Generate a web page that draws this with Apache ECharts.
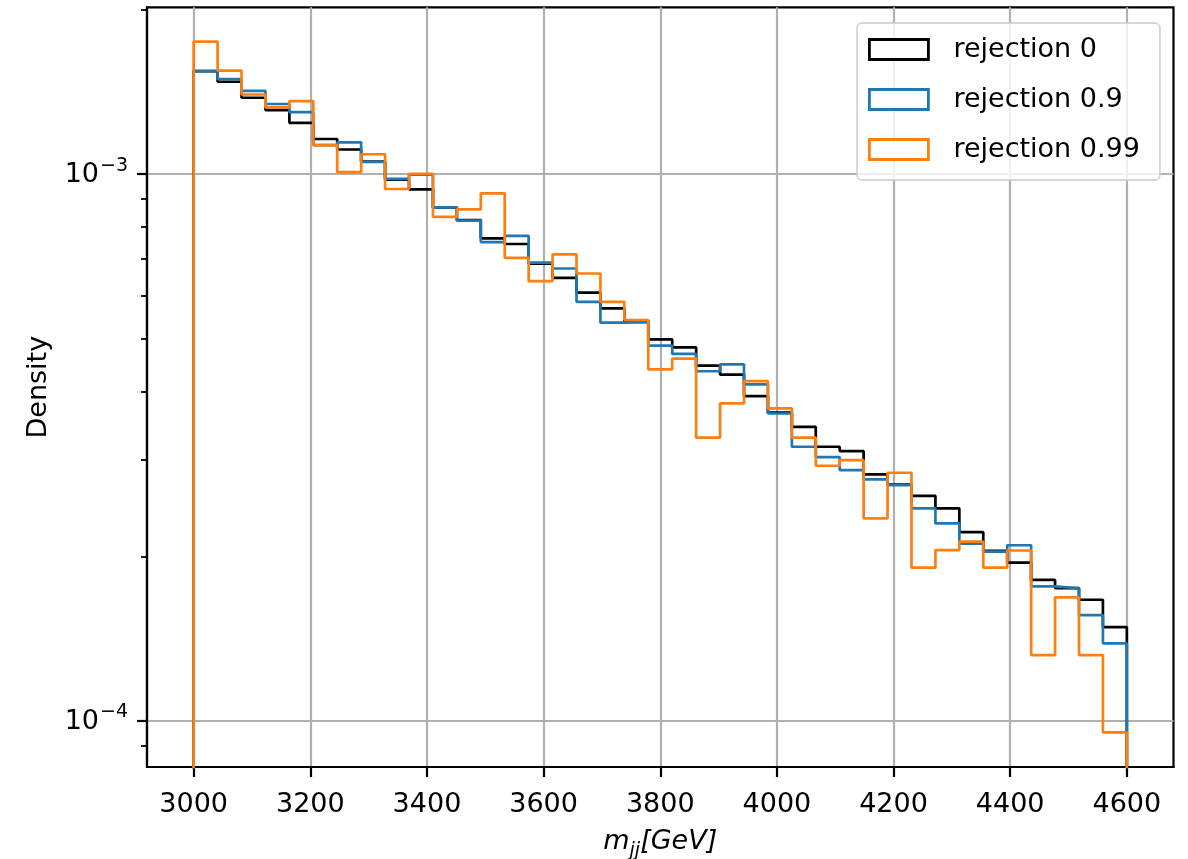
<!DOCTYPE html>
<html><head><meta charset="utf-8">
<script src="https://cdn.jsdelivr.net/npm/echarts@6/dist/echarts.min.js"></script>
<style>html,body{margin:0;padding:0;background:#fff}#chart{width:1188px;height:859px}</style>
</head><body><div id="chart"></div>
<script>
// ---- data ----
const histRange = [3000, 4600];
const nBins = 39;
const seriesNames = ['rejection 0', 'rejection 0.9', 'rejection 0.99'];
const rej0 = [1.543e-3,1.475e-3,1.379e-3,1.309e-3,1.241e-3,1.159e-3,1.109e-3,1.054e-3,0.977e-3,0.938e-3,
  0.869e-3,0.824e-3,0.763e-3,0.745e-3,0.686e-3,0.646e-3,0.607e-3,0.568e-3,0.538e-3,0.4985e-3,
  0.482e-3,0.4466e-3,0.430e-3,0.3927e-3,0.3664e-3,0.345e-3,0.3173e-3,0.3116e-3,0.2825e-3,0.2706e-3,
  0.2581e-3,0.2447e-3,0.2214e-3,0.2046e-3,0.1948e-3,0.1811e-3,0.1750e-3,0.1666e-3,0.1485e-3];
const rej09 = [1.543e-3,1.492e-3,1.420e-3,1.343e-3,1.298e-3,1.130e-3,1.143e-3,1.053e-3,0.980e-3,0.998e-3,
  0.869e-3,0.822e-3,0.751e-3,0.771e-3,0.689e-3,0.672e-3,0.584e-3,0.535e-3,0.536e-3,0.4855e-3,
  0.469e-3,0.436e-3,0.449e-3,0.4126e-3,0.365e-3,0.3173e-3,0.3038e-3,0.2876e-3,0.2766e-3,0.2700e-3,
  0.2447e-3,0.2298e-3,0.2109e-3,0.2040e-3,0.2096e-3,0.1763e-3,0.1749e-3,0.1562e-3,0.1387e-3];
const rej099 = [1.746e-3,1.546e-3,1.398e-3,1.324e-3,1.360e-3,1.130e-3,1.008e-3,1.087e-3,0.939e-3,1.001e-3,
  0.835e-3,0.862e-3,0.922e-3,0.703e-3,0.637e-3,0.713e-3,0.658e-3,0.584e-3,0.541e-3,0.4395e-3,
  0.460e-3,0.3296e-3,0.3808e-3,0.4184e-3,0.3728e-3,0.3296e-3,0.2929e-3,0.300e-3,0.2347e-3,0.2844e-3,
  0.1907e-3,0.2054e-3,0.2128e-3,0.1907e-3,0.2050e-3,0.1320e-3,0.1683e-3,0.1320e-3,0.0953e-3];
const xTicks = [3000, 3200, 3400, 3600, 3800, 4000, 4200, 4400, 4600];
const yMajorTicks = [1e-4, 1e-3];
const yMinorTicks = [9e-5, 2e-4, 3e-4, 4e-4, 5e-4, 6e-4, 7e-4, 8e-4, 9e-4, 2e-3];
const colors = ['#000000', '#1f77b4', '#ff7f0e'];

// ---- build step outlines ----
const binEdges = [];
for (let i = 0; i <= nBins; i++) binEdges.push(histRange[0] + i * (histRange[1] - histRange[0]) / nBins);
const baseline = 1e-7;
function stepPoints(vals) {
  const pts = [[binEdges[0], baseline]];
  vals.forEach((v, i) => { pts.push([binEdges[i], v], [binEdges[i + 1], v]); });
  pts.push([binEdges[nBins], baseline]);
  return pts;
}
const FONT = 'DejaVu Sans';
const FS = 27;
const allVals = [rej0, rej09, rej099];

const chart = echarts.init(document.getElementById('chart'), null, {renderer: 'canvas'});
chart.setOption({
  animation: false,
  backgroundColor: '#fff',
  grid: {left: 147, right: 14.5, top: 7.3, bottom: 92, show: true, borderColor: '#000', borderWidth: 2.2,
         containLabel: false, outerBoundsMode: 'none'},
  legend: {
    orient: 'vertical', left: 857, top: 23, padding: [13, 20, 17, 11],
    itemWidth: 59, itemHeight: 20, itemGap: 23, icon: 'rect',
    backgroundColor: 'rgba(255,255,255,0.8)', borderColor: 'rgba(204,204,204,0.8)', borderWidth: 1.8, borderRadius: 5,
    textStyle: {fontFamily: FONT, fontSize: FS, color: '#000', padding: [0, 0, 0, 20]},
    data: seriesNames.map((n, i) => ({name: n, icon: 'rect',
      itemStyle: {color: '#fff', borderColor: colors[i], borderWidth: 2.8}}))
  },
  xAxis: {
    type: 'value', min: 2920, max: 4680,
    axisLine: {show: true, onZero: false, lineStyle: {color: '#000', width: 2.2}},
    axisTick: {show: true, length: 10, customValues: xTicks, lineStyle: {color: '#000', width: 2.2}},
    axisLabel: {customValues: xTicks, margin: 24, color: '#000', fontFamily: FONT, fontSize: FS,
      formatter: v => String(Math.round(v))},
    splitLine: {show: true, lineStyle: {color: '#b0b0b0', width: 2.2}},
    name: '{i|m}{s|jj}{i|[GeV]}', nameLocation: 'middle', nameGap: 61,
    nameTextStyle: {rich: {
      i: {fontFamily: FONT, fontStyle: 'italic', fontSize: FS, color: '#000', lineHeight: 28, verticalAlign: 'top'},
      s: {fontFamily: FONT, fontStyle: 'italic', fontSize: 19, color: '#000', lineHeight: 19, padding: [14, 0, 0, 0], verticalAlign: 'top'}
    }}
  },
  yAxis: [{
    type: 'log', logBase: 10, min: 8.24e-5, max: 2.018e-3,
    axisLine: {show: true, lineStyle: {color: '#000', width: 2.2}},
    axisTick: {show: true, length: 10, customValues: yMajorTicks, lineStyle: {color: '#000', width: 2.2}},
    axisLabel: {customValues: yMajorTicks, margin: 19, color: '#000', fontFamily: FONT, fontSize: FS,
      formatter: v => '{b|10}{sup|\u2212' + Math.abs(Math.round(Math.log10(v))) + '}',
      rich: {
        b: {fontFamily: FONT, fontSize: FS, color: '#000', lineHeight: 28, verticalAlign: 'bottom'},
        sup: {fontFamily: FONT, fontSize: 19, color: '#000', lineHeight: 19, padding: [0, 0, 13, 1], verticalAlign: 'bottom'}
      }},
    splitLine: {show: true, lineStyle: {color: '#b0b0b0', width: 2.2}},
    minorTick: {show: false}, minorSplitLine: {show: false},
    name: 'Density', nameLocation: 'middle', nameGap: 95,
    nameTextStyle: {fontFamily: FONT, fontSize: FS, color: '#000'}
  }, {
    type: 'log', logBase: 10, min: 8.24e-5, max: 2.018e-3, position: 'left', offset: 0,
    axisLine: {show: false},
    axisTick: {show: true, length: 6, customValues: yMinorTicks, lineStyle: {color: '#000', width: 1.8}},
    axisLabel: {show: false},
    splitLine: {show: false}
  }],
  series: allVals.map((vals, i) => ({
    type: 'line', name: seriesNames[i], data: stepPoints(vals), yAxisIndex: 0,
    showSymbol: false, symbol: 'none', clip: true, z: 3 + i,
    lineStyle: {color: colors[i], width: 2.7}, itemStyle: {color: colors[i]}
  }))
});
</script></body></html>
